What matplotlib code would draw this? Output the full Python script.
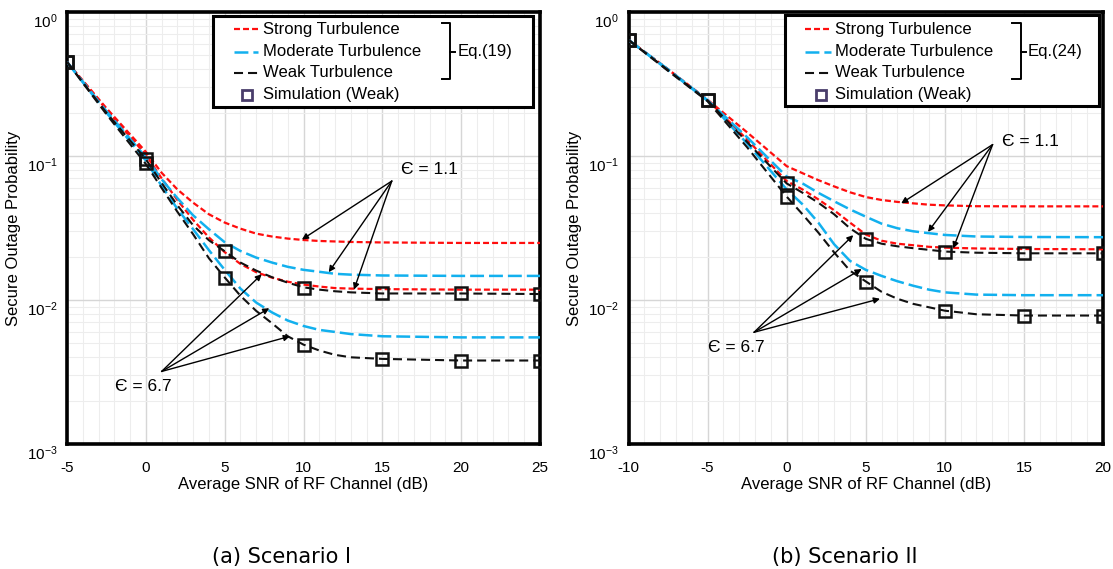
import matplotlib
matplotlib.use("Agg")
import matplotlib.pyplot as plt
from matplotlib.lines import Line2D
from matplotlib.patches import Rectangle
from matplotlib.ticker import LogLocator, MultipleLocator, NullFormatter

plt.rcParams['font.family'] = ['Liberation Sans', 'DejaVu Sans']
plt.rcParams['mathtext.default'] = 'regular'
plt.rcParams['lines.scale_dashes'] = False
plt.rcParams['axes.unicode_minus'] = False

# ---------------- data: (a) Scenario I ----------------
snr_a = [-5, -2.5, 0, 1, 2, 3, 4, 5, 6, 7, 8, 9, 10, 11, 12, 13, 15, 20, 25]
strong_a_e11 = [0.45, 0.215, 0.107, 0.0765, 0.0586, 0.0474, 0.0394, 0.0345, 0.0313, 0.0289, 0.0276,
                0.0267, 0.0261, 0.0257, 0.0255, 0.0253, 0.0251, 0.0249, 0.0249]
moderate_a_e11 = [0.45, 0.205, 0.098, 0.069, 0.051, 0.0387, 0.031, 0.0252, 0.0219, 0.0197, 0.0182,
                  0.0170, 0.0162, 0.0157, 0.0152, 0.0150, 0.0148, 0.0147, 0.0147]
weak_a_e11 = [0.45, 0.200, 0.095, 0.065, 0.0455, 0.0330, 0.0260, 0.0218, 0.0182, 0.0160, 0.0144,
              0.0132, 0.01225, 0.0118, 0.0115, 0.0113, 0.0111, 0.0111, 0.0110]
strong_a_e67 = [0.45, 0.210, 0.102, 0.070, 0.0495, 0.0360, 0.0272, 0.0215, 0.0178, 0.0156, 0.0143,
                0.0134, 0.0128, 0.0124, 0.0121, 0.0120, 0.0119, 0.0118, 0.0118]
moderate_a_e67 = [0.45, 0.200, 0.093, 0.062, 0.043, 0.031, 0.0222, 0.0162, 0.0120, 0.0096, 0.0082,
                  0.0072, 0.0066, 0.0062, 0.0060, 0.0058, 0.0056, 0.0055, 0.0055]
weak_a_e67 = [0.45, 0.195, 0.088, 0.060, 0.041, 0.0286, 0.0195, 0.01435, 0.0107, 0.0084, 0.0069,
              0.0056, 0.0049, 0.00446, 0.00416, 0.0040, 0.0039, 0.0038, 0.0038]
sim_snr_a = [-5, 0, 5, 10, 15, 20, 25]
sim_a_e11 = [0.45, 0.095, 0.0219, 0.0122, 0.0111, 0.0111, 0.0110]
sim_a_e67 = [0.45, 0.089, 0.0143, 0.0049, 0.0039, 0.0038, 0.0038]
xticks_a = [-5, 0, 5, 10, 15, 20, 25]

# ---------------- data: (b) Scenario II ----------------
snr_b = [-10, -7.5, -5, -2.5, 0, 1, 2, 3, 4, 5, 6, 7, 8, 9, 10, 12, 15, 20]
strong_b_e11 = [0.64, 0.40, 0.246, 0.146, 0.0850, 0.0760, 0.0680, 0.0615, 0.0560, 0.0519, 0.0495,
                0.0480, 0.0469, 0.0459, 0.0454, 0.0448, 0.0447, 0.0447]
moderate_b_e11 = [0.64, 0.40, 0.244, 0.135, 0.0720, 0.0645, 0.0555, 0.0485, 0.0426, 0.0379, 0.0339,
                  0.0315, 0.0300, 0.0291, 0.0283, 0.0276, 0.0274, 0.0273]
weak_b_e11 = [0.64, 0.395, 0.243, 0.125, 0.0645, 0.0556, 0.0474, 0.0394, 0.0315, 0.0266, 0.0246,
              0.0236, 0.0229, 0.0223, 0.0217, 0.0213, 0.0211, 0.0211]
strong_b_e67 = [0.64, 0.40, 0.245, 0.130, 0.0670, 0.0586, 0.0500, 0.0420, 0.0345, 0.0285, 0.0258,
                0.0246, 0.0240, 0.0234, 0.0231, 0.0228, 0.0226, 0.0225]
moderate_b_e67 = [0.64, 0.395, 0.242, 0.122, 0.0586, 0.0462, 0.0345, 0.0244, 0.0187, 0.0162, 0.0147,
                  0.0135, 0.01256, 0.0118, 0.0113, 0.0109, 0.0108, 0.0108]
weak_b_e67 = [0.64, 0.39, 0.240, 0.115, 0.0522, 0.0394, 0.0294, 0.0214, 0.0160, 0.01346, 0.0114,
              0.0102, 0.0094, 0.0089, 0.00843, 0.00796, 0.0078, 0.0078]
sim_snr_b = [-10, -5, 0, 5, 10, 15, 20]
sim_b_e11 = [0.64, 0.243, 0.0645, 0.0264, 0.0217, 0.0211, 0.0211]
sim_b_e67 = [0.64, 0.243, 0.0522, 0.0134, 0.00835, 0.0078, 0.0078]
xticks_b = [-10, -5, 0, 5, 10, 15, 20]

# labels
legend_labels = ["Strong Turbulence", "Moderate Turbulence", "Weak Turbulence", "Simulation (Weak)"]
eq_a = "Eq.(19)"
eq_b = "Eq.(24)"
eps11 = "\u0404 = 1.1"
eps67 = "\u0404 = 6.7"
xlabel = "Average SNR of RF Channel (dB)"
ylabel = "Secure Outage Probability"
caption_a = "(a) Scenario I"
caption_b = "(b) Scenario II"

# annotation anchor points (data coords)
ann_a = dict(t11=(16.2, 0.080), o11=(15.6, 0.067), p11=[(9.9, 0.0263), (11.6, 0.0156), (13.2, 0.0118)],
             t67=(-1.96, 0.0025), o67=(1.0, 0.00319), p67=[(7.35, 0.0151), (7.83, 0.00877), (9.14, 0.0056)])
ann_b = dict(t11=(13.6, 0.1266), o11=(13.02, 0.120), p11=[(7.24, 0.0469), (8.94, 0.0297), (10.53, 0.0228)],
             t67=(-5.0, 0.00471), o67=(-2.06, 0.00597), p67=[(4.21, 0.0282), (4.74, 0.0164), (5.9, 0.0102)])

# ---------------- styles ----------------
RED = "#ff0d0d"
BLUE = "#12b0ee"
BLACK = "#111111"
st_strong = dict(color=RED, lw=1.6, dashes=(4.3, 2.2))
st_mod = dict(color=BLUE, lw=1.8, dashes=(10, 3.6))
st_weak = dict(color=BLACK, lw=1.5, dashes=(6.5, 3.6))

W, H = 1113, 569
fig = plt.figure(figsize=(W / 100, H / 100), dpi=100)


def F(px, py):
    return (px / W, 1 - py / H)


def make_axes(left, right, top=12, bottom=444):
    return fig.add_axes([left / W, 1 - bottom / H, (right - left) / W, (bottom - top) / H])


def panel(ax, snr, curves, sim_snr, sims, xticks, ann, leg, eq):
    s11, m11, w11, s67, m67, w67 = curves
    ax.plot(snr, s11, **st_strong, zorder=3)
    ax.plot(snr, s67, **st_strong, zorder=3)
    ax.plot(snr, m11, **st_mod, zorder=3)
    ax.plot(snr, m67, **st_mod, zorder=3)
    ax.plot(snr, w11, **st_weak, zorder=3)
    ax.plot(snr, w67, **st_weak, zorder=3)
    for s in sims:
        ax.plot(sim_snr, s, ls='none', marker='s', ms=8, mfc='none', mec=BLACK, mew=1.8, zorder=4)

    ax.set_yscale('log')
    ax.set_ylim(1e-3, 1)
    ax.set_xlim(xticks[0], xticks[-1])
    ax.set_xticks(xticks)
    ax.xaxis.set_minor_locator(MultipleLocator(1))
    ax.yaxis.set_major_locator(LogLocator(base=10, numticks=10))
    ax.yaxis.set_minor_locator(LogLocator(base=10, subs=range(2, 10), numticks=20))
    ax.yaxis.set_minor_formatter(NullFormatter())
    ax.grid(which='major', color='#d6d6d6', lw=1.0)
    ax.grid(which='minor', color='#ededed', lw=0.8)
    ax.set_axisbelow(True)
    ax.tick_params(which='both', length=0, labelsize=11)
    ax.tick_params(axis='x', pad=12)
    ax.tick_params(axis='y', pad=7)
    for sp in ax.spines.values():
        sp.set_linewidth(2.6)
        sp.set_color('black')
    ax.set_xlabel(xlabel, fontsize=12, labelpad=2)
    ax.set_ylabel(ylabel, fontsize=12, labelpad=4)

    # annotations
    ap = dict(arrowstyle='-|>', color='black', lw=1.0, mutation_scale=9, shrinkA=0, shrinkB=0)
    for p in ann['p11']:
        ax.annotate('', xy=p, xytext=ann['o11'], arrowprops=ap, zorder=5)
    for p in ann['p67']:
        ax.annotate('', xy=p, xytext=ann['o67'], arrowprops=ap, zorder=5)
    ax.text(*ann['t11'], eps11, fontsize=12.5, ha='left', va='center', zorder=6)
    ax.text(*ann['t67'], eps67, fontsize=12.5, ha='left', va='center', zorder=6)

    # legend (manual, in figure pixel layout)
    (bx0, by0, bx1, by1), hx0, hx1, mx, tx, rows, (brl, brv, brt, brb, brm), eqx = leg
    x0, y0 = F(bx0, by1)
    x1, y1 = F(bx1, by0)
    ax.add_artist(Rectangle((x0, y0), x1 - x0, y1 - y0, transform=fig.transFigure,
                            facecolor='white', edgecolor='black', lw=2.2, zorder=7))
    styles = [st_strong, st_mod, st_weak]
    for i in range(3):
        a, b = F(hx0, rows[i]), F(hx1, rows[i])
        ax.add_artist(Line2D([a[0], b[0]], [a[1], b[1]], transform=fig.transFigure, zorder=8, **styles[i]))
    mpt = F(mx, rows[3])
    ax.add_artist(Line2D([mpt[0]], [mpt[1]], transform=fig.transFigure, ls='none', marker='s', ms=7,
                         mfc='white', mec='#4a3d6b', mew=2.0, zorder=8))
    for i in range(4):
        p = F(tx, rows[i])
        ax.text(p[0], p[1], legend_labels[i], transform=fig.transFigure, fontsize=12,
                ha='left', va='center', zorder=9)
    pts = [F(brl, brt), F(brv, brt), F(brv, brb), F(brl, brb)]
    ax.add_artist(Line2D([q[0] for q in pts], [q[1] for q in pts], transform=fig.transFigure,
                         color='black', lw=1.4, zorder=8))
    m0, m1 = F(brv, brm), F(brv + 5, brm)
    ax.add_artist(Line2D([m0[0], m1[0]], [m0[1], m1[1]], transform=fig.transFigure,
                         color='black', lw=1.4, zorder=8))
    e = F(eqx, brm)
    ax.text(e[0], e[1], eq, transform=fig.transFigure, fontsize=12, ha='left', va='center', zorder=9)

    for lbl in ax.get_yticklabels():
        lbl.set_va('top')


rows = [29.3, 51.7, 72.7, 95.0]
leg_a = ((213, 16, 533, 107), 234, 258, 247, 263, rows, (442, 450, 23, 79, 51.7), 458)
leg_b = ((785, 15, 1099, 106), 805, 831, 820.5, 835, rows, (1012, 1020.5, 23, 79, 51.7), 1028)

ax1 = make_axes(67, 540)
panel(ax1, snr_a, [strong_a_e11, moderate_a_e11, weak_a_e11, strong_a_e67, moderate_a_e67, weak_a_e67],
      sim_snr_a, [sim_a_e11, sim_a_e67], xticks_a, ann_a, leg_a, eq_a)

ax2 = make_axes(628.5, 1103)
panel(ax2, snr_b, [strong_b_e11, moderate_b_e11, weak_b_e11, strong_b_e67, moderate_b_e67, weak_b_e67],
      sim_snr_b, [sim_b_e11, sim_b_e67], xticks_b, ann_b, leg_b, eq_b)

fig.text(282 / W, 1 - 557 / H, caption_a, ha='center', va='center', fontsize=15, family='DejaVu Sans')
fig.text(845 / W, 1 - 557 / H, caption_b, ha='center', va='center', fontsize=15, family='DejaVu Sans')

fig.savefig("out.png", dpi=100)
